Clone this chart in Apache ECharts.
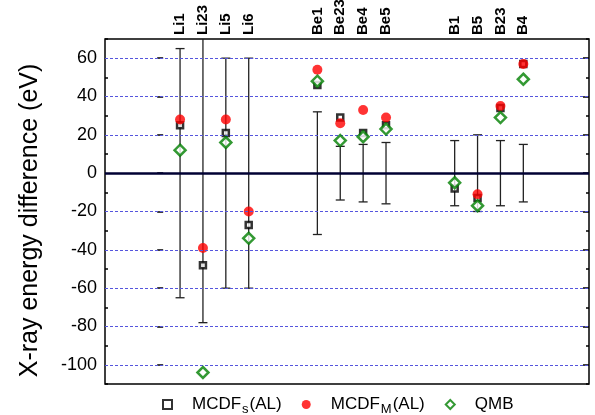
<!DOCTYPE html>
<html>
<head>
<meta charset="utf-8">
<script src="https://cdn.jsdelivr.net/npm/echarts@6/dist/echarts.min.js"></script>
<style>html,body{margin:0;padding:0;background:#fff}#c{width:595px;height:415px}</style>
</head>
<body>
<div id="c"></div>
<script>
var categories = ['Li1','Li23','Li5','Li6','Be1','Be23','Be4','Be5','B1','B5','B23','B4'];
var positions  = [1, 2, 3, 4, 7, 8, 9, 10, 13, 14, 15, 16];
var mcdfS      = [25, -48, 21, -27, 46, 29, 21, 25, -8, -13, 34, 57];
var mcdfM      = [28, -39, 28, -20, 54, 26, 33, 29, null, -11, 35, 57];
var qmb        = [12, -104, 16, -34, 48, 17, 19, 23, -5, -17, 29, 49];
var errHalf    = [65, 78, 60, 60, 32, 14, 15, 16, 17, 20, 17, 15];
var gridValues = [-100, -80, -60, -40, -20, 20, 40, 60];
var majorTicks = [-100, -80, -60, -40, -20, 0, 20, 40, 60];
var minorTicks = [-110, -90, -70, -50, -30, -10, 10, 30, 50, 70];

var Y_MIN = -110, Y_MAX = 70;

function pts(arr){ return positions.map(function(p,i){ return [p, arr[i]]; }).filter(function(d){return d[1]!==null;}); }
var errData = positions.map(function(p,i){ return [p, -errHalf[i], errHalf[i]]; });

function yAxisDef(pos, ticks, len, labels){
  return {
    type:'value', position:pos, min:Y_MIN, max:Y_MAX,
    axisLine:{show:false},
    splitLine:{show:false},
    axisTick:{show:true, inside:true, length:len, customValues:ticks, lineStyle:{color:'#000', width:1.5}},
    axisLabel: labels ? {show:true, customValues:majorTicks, fontFamily:'Liberation Sans', fontSize:18, color:'#000', margin:8} : {show:false}
  };
}

var chart = echarts.init(document.getElementById('c'), null, {renderer:'canvas'});
var subRich = {
  a:{fontFamily:'Liberation Sans', fontSize:17, color:'#000'},
  s:{fontFamily:'Liberation Sans', fontSize:13, color:'#000', verticalAlign:'bottom', padding:[9,1,0,1]}
};
chart.setOption({
  animation:false,
  grid:{left:105, right:6, top:39, bottom:31, show:true, borderColor:'#000', borderWidth:1.5,
        backgroundColor:'transparent', outerBoundsMode:'none', containLabel:false},
  xAxis:[{
    type:'value', position:'top', min:-2.28, max:18.87,
    axisLine:{show:false}, axisTick:{show:false}, splitLine:{show:false},
    axisLabel:{show:true, customValues:positions, rotate:90, margin:4,
      fontFamily:'Liberation Sans', fontWeight:'bold', fontSize:15, color:'#000',
      formatter:function(v){ var i=positions.indexOf(v); return i>=0?categories[i]:''; }}
  }],
  yAxis:[
    Object.assign(yAxisDef('left', majorTicks, 6, true), {
      name:'X-ray energy difference (eV)', nameLocation:'middle', nameGap:62,
      nameTextStyle:{fontFamily:'Liberation Sans', fontSize:25, color:'#000', padding:[0,0,0,-18]}
    }),
    yAxisDef('left', minorTicks, 3, false),
    yAxisDef('right', majorTicks, 6, false),
    yAxisDef('right', minorTicks, 3, false)
  ],
  legend:{
    top:391, left:157, itemGap:20, itemWidth:9, itemHeight:9,
    data:['MCDF_s','MCDF_M','QMB'],
    formatter:function(n){
      if(n==='MCDF_s') return '{a|MCDF}{s|s}{a|(AL)}';
      if(n==='MCDF_M') return '{a|MCDF}{s|M}{a|(AL)}';
      return '{a|QMB}';
    },
    textStyle:{rich:subRich, padding:[0,0,0,15]}
  },
  series:[
    {
      type:'custom', name:'err', z:1, silent:true,
      data:errData,
      renderItem:function(params, api){
        var x = api.value(0), lo = api.value(1), hi = api.value(2);
        var hiC = Math.min(hi, Y_MAX), loC = Math.max(lo, Y_MIN);
        var pTop = api.coord([x, hiC]), pBot = api.coord([x, loC]);
        var st = {stroke:'#222', lineWidth:1.3};
        var children = [{type:'line', shape:{x1:pTop[0], y1:pTop[1], x2:pBot[0], y2:pBot[1]}, style:st}];
        if(hi <= Y_MAX) children.push({type:'line', shape:{x1:pTop[0]-4.5, y1:pTop[1], x2:pTop[0]+4.5, y2:pTop[1]}, style:st});
        if(lo >= Y_MIN) children.push({type:'line', shape:{x1:pBot[0]-4.5, y1:pBot[1], x2:pBot[0]+4.5, y2:pBot[1]}, style:st});
        return {type:'group', children:children};
      },
      markLine:{
        silent:true, symbol:'none', label:{show:false},
        lineStyle:{color:'#5555dd', type:[3,2], width:1, opacity:1},
        emphasis:{disabled:true},
        data: gridValues.map(function(v){ return {yAxis:v}; })
          .concat([{yAxis:0, lineStyle:{color:'#000033', type:'solid', width:2.5}}])
      }
    },
    {
      type:'scatter', name:'MCDF_s', z:3, data:pts(mcdfS), symbol:'rect', symbolSize:6,
      itemStyle:{color:'#ffffff', borderColor:'#000', borderWidth:2.5}
    },
    {
      type:'scatter', name:'MCDF_M', z:4, data:pts(mcdfM), symbol:'circle', symbolSize:10,
      itemStyle:{color:'#ff0000'}
    },
    {
      type:'scatter', name:'QMB', z:5, data:pts(qmb), symbol:'diamond', symbolSize:11,
      itemStyle:{color:'#ffffff', borderColor:'#008000', borderWidth:2.5}
    }
  ]
});
</script>
</body>
</html>
